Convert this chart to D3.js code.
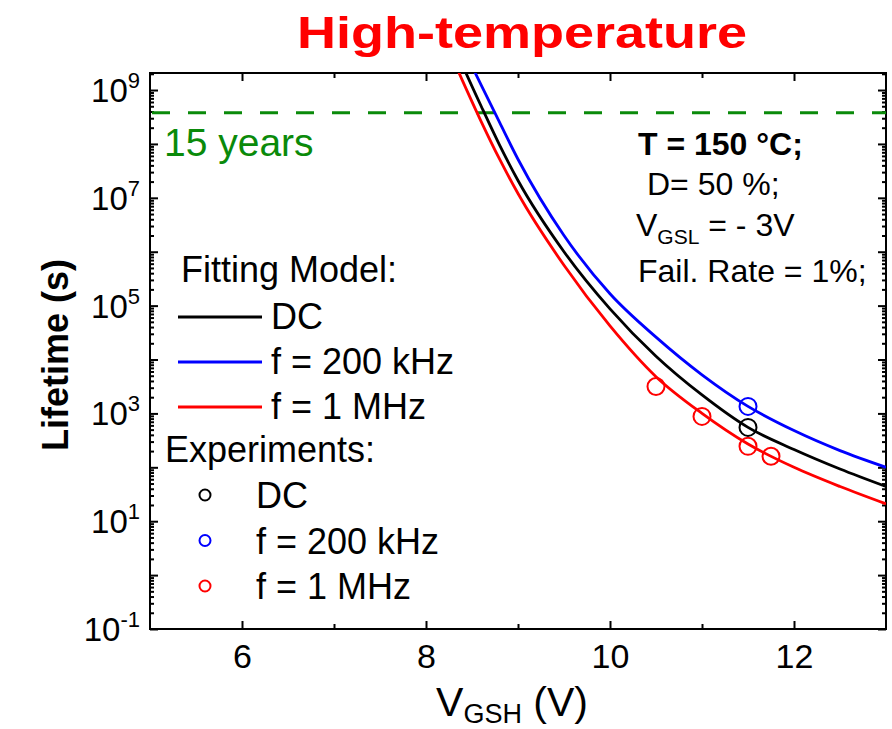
<!DOCTYPE html>
<html>
<head>
<meta charset="utf-8">
<script src="https://cdn.jsdelivr.net/npm/d3@7"></script>
<style>
  body { margin: 0; background: #fff; }
  svg { display: block; }
  text { font-family: "Liberation Sans", Arial, sans-serif; }
</style>
</head>
<body>
<div id="chart"></div>
<script>
// fitting model curves (V_GSH in V, lifetime in s)
const fitV = [8.3, 8.4, 8.6, 8.8, 9.0, 9.5, 10, 10.5, 11, 11.5, 12, 12.5, 13];
const fitDC = [6.9e9, 2.8e9, 5.0e8, 9.5e7, 2.1e7, 1.0e6, 8.7e4, 1.15e4, 2.2e3, 550, 214, 93, 44];
const fit200k = [1.4e10, 6.2e9, 1.23e9, 2.5e8, 5.2e7, 2.0e6, 1.66e5, 2.6e4, 5.2e3, 1.35e3, 480, 204, 100];
const fit1M = [3.5e9, 1.45e9, 2.6e8, 5.2e7, 1.2e7, 5.6e5, 4.2e4, 4.8e3, 1.0e3, 270, 100, 44, 21];

// experiments
const expVDC = [11.5];
const expDC = [550];
const expV200k = [11.5];
const exp200k = [1350];
const expV1M = [10.5, 11, 11.5, 11.75];
const exp1M = [3160, 880, 245, 160];

// 15 years target line
const yearsLifetime = 3.8e8;

const xMajor = [6, 8, 10, 12];
const xMinor = [7, 9, 11];
const yLabelExp = [-1, 1, 3, 5, 7, 9];

const width = 892;
const height = 729;

const svg = d3.select("#chart")
  .append("svg")
  .attr("width", width)
  .attr("height", height);

const x = d3.scaleLinear().domain([5, 13]).range([150, 886]);
const y = d3.scaleLog().domain([0.1, 2.07e9]).range([629, 73]);

const [x0, x1] = x.range();
const [yb, yt] = y.range();

// title
svg.append("text")
  .attr("x", 522)
  .attr("y", 48)
  .attr("text-anchor", "middle")
  .attr("font-family", "'Open Sans', sans-serif")
  .attr("font-weight", "bold")
  .attr("font-size", 44)
  .attr("fill", "#ff0000")
  .attr("textLength", 450)
  .attr("lengthAdjust", "spacingAndGlyphs")
  .text("High-temperature");

// clip for the curves
svg.append("clipPath").attr("id", "plot-clip")
  .append("rect")
  .attr("x", x0).attr("y", yt)
  .attr("width", x1 - x0).attr("height", yb - yt);

// ticks (all inward)
const yMajor = d3.range(-1, 10).map((e) => Math.pow(10, e));
const yMinor = [];
yMajor.forEach((d) => {
  for (let k = 2; k <= 9; k++) {
    if (d * k <= y.domain()[1]) yMinor.push(d * k);
  }
});

svg.append("g").attr("transform", `translate(0,${yb})`)
  .call(d3.axisBottom(x).tickValues(xMajor).tickSize(-8).tickPadding(15).tickFormat(d3.format("d")))
  .call((g) => g.selectAll("text").attr("font-size", 34).attr("fill", "#000")
    .attr("font-family", "'Liberation Sans', Arial, sans-serif"));
svg.append("g").attr("transform", `translate(0,${yb})`)
  .call(d3.axisBottom(x).tickValues(xMinor).tickSize(-5).tickFormat(""));
svg.append("g").attr("transform", `translate(0,${yt})`)
  .call(d3.axisTop(x).tickValues(xMajor).tickSize(-8).tickFormat(""));
svg.append("g").attr("transform", `translate(0,${yt})`)
  .call(d3.axisTop(x).tickValues(xMinor).tickSize(-5).tickFormat(""));

svg.append("g").attr("transform", `translate(${x0},0)`)
  .call(d3.axisLeft(y).tickValues(yMajor).tickSize(-8).tickFormat(""));
svg.append("g").attr("transform", `translate(${x0},0)`)
  .call(d3.axisLeft(y).tickValues(yMinor).tickSize(-4).tickFormat(""));
svg.append("g").attr("transform", `translate(${x1},0)`)
  .call(d3.axisRight(y).tickValues(yMajor).tickSize(-8).tickFormat(""));
svg.append("g").attr("transform", `translate(${x1},0)`)
  .call(d3.axisRight(y).tickValues(yMinor).tickSize(-4).tickFormat(""));

svg.selectAll(".domain").remove();
svg.selectAll(".tick line").attr("stroke", "#000").attr("stroke-width", 2);

// y tick labels with superscripts
yLabelExp.forEach((e) => {
  const t = svg.append("text")
    .attr("x", 140)
    .attr("y", y(Math.pow(10, e)) + 12)
    .attr("text-anchor", "end")
    .attr("font-size", 33);
  t.append("tspan").text("10");
  t.append("tspan").attr("dy", -14).attr("font-size", 22).text(String(e));
});

// frame
svg.append("rect")
  .attr("x", x0).attr("y", yt)
  .attr("width", x1 - x0).attr("height", yb - yt)
  .attr("fill", "none")
  .attr("stroke", "#000")
  .attr("stroke-width", 2);

// 15 years line
svg.append("line")
  .attr("x1", x0 + 2).attr("x2", x1)
  .attr("y1", y(yearsLifetime)).attr("y2", y(yearsLifetime))
  .attr("stroke", "#0a8a0a")
  .attr("stroke-width", 3)
  .attr("stroke-dasharray", "18,18");
svg.append("text")
  .attr("x", 164).attr("y", 156)
  .attr("font-size", 39)
  .attr("fill", "#0a8a0a")
  .text("15 years");

// model curves
const line = d3.line()
  .x((d) => x(d[0]))
  .y((d) => y(d[1]))
  .curve(d3.curveMonotoneX);

const curves = [
  { vals: fitDC, color: "#000000" },
  { vals: fit1M, color: "#ff0000" },
  { vals: fit200k, color: "#0000ff" },
];
const plot = svg.append("g").attr("clip-path", "url(#plot-clip)");
curves.forEach((c) => {
  plot.append("path")
    .datum(fitV.map((v, i) => [v, c.vals[i]]))
    .attr("d", line)
    .attr("fill", "none")
    .attr("stroke", c.color)
    .attr("stroke-width", 2.8);
});

// experiment markers
const experiments = [
  { vs: expV1M, vals: exp1M, color: "#ff0000" },
  { vs: expVDC, vals: expDC, color: "#000000" },
  { vs: expV200k, vals: exp200k, color: "#0000ff" },
];
experiments.forEach((s) => {
  plot.selectAll(null)
    .data(s.vs.map((v, i) => [v, s.vals[i]]))
    .enter()
    .append("circle")
    .attr("cx", (d) => x(d[0]))
    .attr("cy", (d) => y(d[1]))
    .attr("r", 8.5)
    .attr("fill", "none")
    .attr("stroke", s.color)
    .attr("stroke-width", 2);
});

// annotation
const note = svg.append("g").attr("font-size", 32).attr("fill", "#000");
note.append("text").attr("x", 638).attr("y", 155).attr("font-weight", "bold").text("T = 150 °C;");
note.append("text").attr("x", 647).attr("y", 195).text("D= 50 %;");
const vgsl = note.append("text").attr("x", 636).attr("y", 236);
vgsl.append("tspan").text("V");
vgsl.append("tspan").attr("dy", 8).attr("font-size", 21).text("GSL");
vgsl.append("tspan").attr("dy", -8).text(" = - 3V");
note.append("text").attr("x", 638).attr("y", 282).text("Fail. Rate = 1%;");

// legend
const legendNames = ["DC", "f = 200 kHz", "f = 1 MHz"];
const legendColors = ["#000000", "#0000ff", "#ff0000"];
const leg = svg.append("g").attr("font-size", 36).attr("fill", "#000");
leg.append("text").attr("x", 181).attr("y", 282).text("Fitting Model:");
legendNames.forEach((name, i) => {
  const ly = 317 + i * 45;
  leg.append("line")
    .attr("x1", 178).attr("x2", 262)
    .attr("y1", ly).attr("y2", ly)
    .attr("stroke", legendColors[i])
    .attr("stroke-width", 2.8);
  leg.append("text").attr("x", 271).attr("y", ly + 12).text(name);
});
leg.append("text").attr("x", 165).attr("y", 462).text("Experiments:");
legendNames.forEach((name, i) => {
  const ly = 495 + i * 45.5;
  leg.append("circle")
    .attr("cx", 205).attr("cy", ly)
    .attr("r", 5.5)
    .attr("fill", "none")
    .attr("stroke", legendColors[i])
    .attr("stroke-width", 2);
  leg.append("text").attr("x", 256).attr("y", ly + 13).text(name);
});

// axis titles
const xt = svg.append("text")
  .attr("x", 512).attr("y", 716)
  .attr("text-anchor", "middle")
  .attr("font-size", 41);
xt.append("tspan").text("V");
xt.append("tspan").attr("dy", 7).attr("font-size", 27).text("GSH");
xt.append("tspan").attr("dy", -7).text(" (V)");

svg.append("text")
  .attr("transform", "translate(68,355) rotate(-90)")
  .attr("text-anchor", "middle")
  .attr("font-size", 36)
  .attr("font-weight", "bold")
  .text("Lifetime (s)");
</script>
</body>
</html>
